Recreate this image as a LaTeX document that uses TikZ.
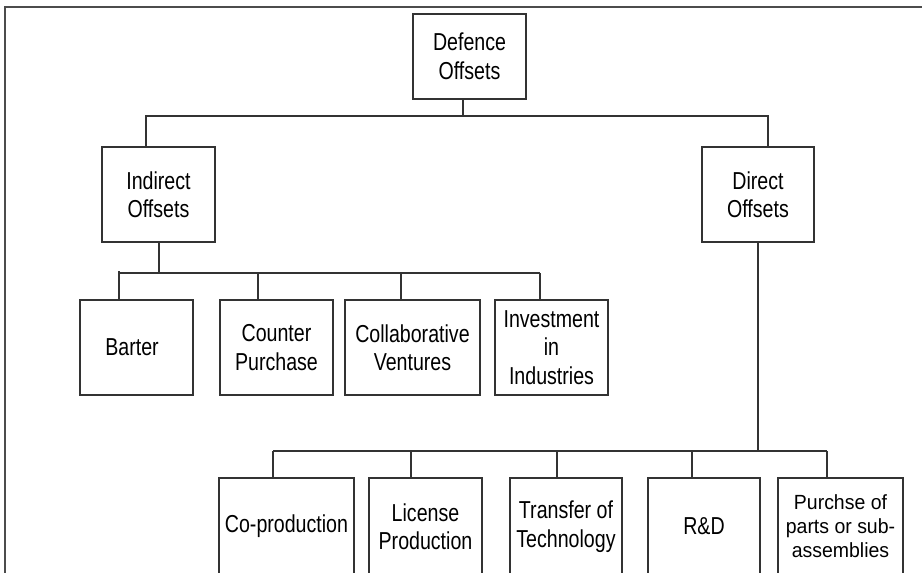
\documentclass[tikz,border=0pt]{standalone}
\usepackage{fontspec}
\setmainfont{Liberation Sans}[FakeStretch=0.80]
\newfontfamily\widefont{Liberation Sans}[FakeStretch=0.95]
\begin{document}
\begin{tikzpicture}[x=1pt,y=-1pt,
  box/.style={draw=black!80, line width=1.5pt, rectangle, inner sep=0pt,
    align=center, font=\fontsize{24.5}{28.5}\selectfont},
  link/.style={draw=black!80, line width=1.5pt},
  frameline/.style={draw=black!70, line width=2pt}]
\useasboundingbox (0,0) rectangle (922,573);
\clip (0,0) rectangle (922,573);

% outer frame (top and left edges)
\coordinate (fa) at (5,7);
\coordinate (fb) at (922,7);
\coordinate (fc) at (5,573);
\draw[frameline] (fb) -- (fa) -- (fc);

% root
\node[box, minimum width=113pt, minimum height=85pt] (def) at (469.5,56.5) {Defence\\Offsets};

% second level
\node[box, minimum width=113pt, minimum height=95pt] (ind) at (158.5,194.5) {Indirect\\Offsets};
\node[box, minimum width=112pt, minimum height=95pt] (dir) at (758,194.5) {Direct\\Offsets};

% indirect offsets
\node[box, minimum width=113pt, minimum height=95pt] (barter) at (136.5,347.5) {\hspace*{-9pt}Barter};
\node[box, minimum width=113pt, minimum height=95pt] (counter) at (276.5,347.5) {Counter\\Purchase};
\node[box, minimum width=135pt, minimum height=95pt] (collab) at (412.5,347.5) {Collaborative\\Ventures};
\node[box, minimum width=113pt, minimum height=95pt] (invest) at (551.5,347.5) {Investment\\in\\Industries};

% direct offsets
\node[box, minimum width=135pt, minimum height=97pt] (coprod) at (286.5,526.5) {Co-production};
\node[box, minimum width=113pt, minimum height=97pt] (license) at (425.5,526.5) {License\\Production};
\node[box, minimum width=112pt, minimum height=97pt] (transfer) at (566,526.5) {Transfer of\\Technology};
\node[box, minimum width=112pt, minimum height=97pt] (rd) at (704,526.5) {R\&D};
\node[box, minimum width=125pt, minimum height=97pt,
  font=\widefont\fontsize{20.5}{24}\selectfont] (purch) at (840.5,526.5) {Purchse of\\parts or sub-\\assemblies};

% bus below the root
\coordinate (r0) at (463,116);
\coordinate (r1) at (146,116);
\coordinate (r2) at (768,116);
\draw[link] (def.south -| r0) -- (r0);
\draw[link] (ind.north -| r1) -- (r1) -- (r2) -- (dir.north -| r2);

% bus below indirect offsets
\coordinate (i0) at (159,273);
\coordinate (i1) at (119,273);
\coordinate (i1t) at (119,271);
\coordinate (i2) at (258,273);
\coordinate (i3) at (401,273);
\coordinate (i4) at (540,273);
\draw[link] (ind.south -| i0) -- (i0);
\draw[link] (i1) -- (i4);
\draw[link] (i1t) -- (barter.north -| i1);
\draw[link] (i2) -- (counter.north -| i2);
\draw[link] (i3) -- (collab.north -| i3);
\draw[link] (i4) -- (invest.north -| i4);

% bus below direct offsets
\coordinate (d0) at (758,451);
\coordinate (d1) at (273,451);
\coordinate (d2) at (411,451);
\coordinate (d3) at (557,451);
\coordinate (d4) at (692,451);
\coordinate (d5) at (827,451);
\draw[link] (dir.south) -- (d0);
\draw[link] (d1) -- (d5);
\draw[link] (d1) -- (coprod.north -| d1);
\draw[link] (d2) -- (license.north -| d2);
\draw[link] (d3) -- (transfer.north -| d3);
\draw[link] (d4) -- (rd.north -| d4);
\draw[link] (d5) -- (purch.north -| d5);
\end{tikzpicture}
\end{document}
